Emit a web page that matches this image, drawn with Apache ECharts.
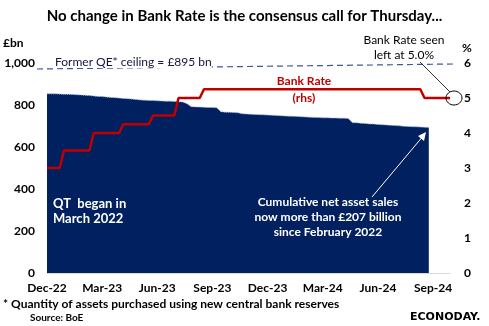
<!DOCTYPE html>
<html><head><meta charset="utf-8">
<script src="https://cdn.jsdelivr.net/npm/echarts@6/dist/echarts.min.js"></script>
<style>html,body{margin:0;padding:0;background:#fff}#c{width:489px;height:326px}</style>
</head><body><div id="c"></div>
<script>
// Weekly observation dates (Wednesdays), 96 weeks
var startDate = '2022-11-23';
var weekCount = 96;
// Quarterly tick labels, every 13 weeks
var tickLabels = ['Dec-22','Mar-23','Jun-23','Sep-23','Dec-23','Mar-24','Jun-24','Sep-24'];
// APF holdings, £bn (weekly)
var apfHoldings = [
 854,853,853,852,851,851,850,849,848,846,
 845,843,841,840,838,836,835,833,831,830,
 828,826,824,823,822,821,820,819,818,818,
 817,816,814,806,792,791,790,789,788,788,
 787,768,766,765,764,763,758,757,756,755,
 754,753,752,751,750,749,748,747,746,745,
 744,743,742,741,740,739,739,738,738,737,
 737,736,716,715,713,712,710,709,707,706,
 705,703,702,701,699,698,697,696,695,694,693
];
// Bank Rate, % (weekly)
var bankRate = [
 3.0,3.0,3.0,3.0,3.5,3.5,3.5,3.5,3.5,3.5,
 3.5,4.0,4.0,4.0,4.0,4.0,4.0,4.0,4.25,4.25,
 4.25,4.25,4.25,4.25,4.25,4.5,4.5,4.5,4.5,4.5,
 4.5,5.0,5.0,5.0,5.0,5.0,5.0,5.25,5.25,5.25,
 5.25,5.25,5.25,5.25,5.25,5.25,5.25,5.25,5.25,5.25,
 5.25,5.25,5.25,5.25,5.25,5.25,5.25,5.25,5.25,5.25,
 5.25,5.25,5.25,5.25,5.25,5.25,5.25,5.25,5.25,5.25,
 5.25,5.25,5.25,5.25,5.25,5.25,5.25,5.25,5.25,5.25,
 5.25,5.25,5.25,5.25,5.25,5.25,5.25,5.25,5.25,5.0,
 5.0,5.0,5.0,5.0,5.0,5.0
];

var categories = [];
(function(){
  var d = new Date(startDate + 'T00:00:00Z');
  for (var i = 0; i < weekCount; i++) {
    var t = new Date(d.getTime() + i*7*86400000);
    categories.push(t.toISOString().slice(0,10));
  }
})();

var rateData = bankRate.map(function(v, i){
  if (i === bankRate.length - 1) {
    return {value: v, symbol: 'arrow', symbolSize: [9, 11], symbolRotate: -90, symbolOffset: [4, 0],
            itemStyle: {color: '#c00000'}};
  }
  return v;
});

var F = 'Lato, "Liberation Sans", sans-serif';
var chart = echarts.init(document.getElementById('c'), null, {renderer: 'canvas'});
chart.setOption({
  animation: false,
  backgroundColor: '#ffffff',
  title: {
    text: 'No change in Bank Rate is the consensus call for Thursday...',
    left: 'center', top: 4,
    textStyle: {fontFamily: F, fontSize: 15, fontWeight: 'bold', color: '#000'}
  },
  grid: {left: 47, right: 39, top: 63, bottom: 53},
  xAxis: {
    type: 'category', data: categories, boundaryGap: false,
    axisLine: {lineStyle: {color: '#d9d9d9', width: 1}},
    axisTick: {show: false},
    axisLabel: {
      interval: 12, margin: 9,
      fontFamily: F, fontSize: 12, fontWeight: 'bold', color: '#000',
      formatter: function(v, idx){ return tickLabels[Math.round(idx/13)] || ''; }
    },
    splitLine: {show: false}
  },
  yAxis: [
    {type: 'value', min: 0, max: 1000, interval: 200,
     axisLine: {show: false}, axisTick: {show: false}, splitLine: {show: false},
     axisLabel: {margin: 12, fontFamily: F, fontSize: 12, fontWeight: 'bold', color: '#000',
       formatter: function(v){ return v === 1000 ? '1,000' : String(v); }}},
    {type: 'value', min: 0, max: 6, interval: 1, position: 'right',
     axisLine: {show: false}, axisTick: {show: false}, splitLine: {show: false},
     axisLabel: {margin: 14, fontFamily: F, fontSize: 12, fontWeight: 'bold', color: '#000'}}
  ],
  series: [
    {type: 'line', name: 'APF', yAxisIndex: 0, data: apfHoldings,
     symbol: 'none',
     lineStyle: {color: '#9db3dd', width: 1, type: 'dotted'},
     areaStyle: {color: '#002060', opacity: 1}, z: 2},
    {type: 'line', name: 'Bank Rate', yAxisIndex: 1, data: rateData,
     symbol: 'none', showSymbol: true,
     lineStyle: {color: '#c00000', width: 2.5}, itemStyle: {color: '#c00000'}, z: 3}
  ],
  graphic: [
    {type: 'text', x: 3, y: 37, style: {text: '£bn', font: 'bold 12px ' + F, fill: '#000'}},
    {type: 'text', x: 462, y: 42, style: {text: '%', font: 'bold 12px ' + F, fill: '#000'}},
    {type: 'line', shape: {x1: 37, y1: 69, x2: 455, y2: 64},
     style: {stroke: '#3b5a96', lineWidth: 1.2, lineDash: [6, 4]}, z: 10},
    {type: 'text', x: 55, y: 56, style: {text: 'Former QE* ceiling = £895 bn', font: '12px ' + F, fill: '#14163a', backgroundColor: '#fff'}, z: 11},
    {type: 'text', x: 304, y: 75, style: {text: 'Bank Rate', font: 'bold 12px ' + F, fill: '#c00000', align: 'center'}, z: 11},
    {type: 'text', x: 304, y: 92, style: {text: '(rhs)', font: 'bold 12px ' + F, fill: '#c00000', align: 'center'}, z: 11},
    {type: 'text', x: 404, y: 33, style: {text: 'Bank Rate seen\nleft at 5.0%', font: '12px ' + F, fill: '#000', align: 'center', lineHeight: 15}, z: 11},
    {type: 'line', shape: {x1: 420, y1: 62, x2: 450, y2: 92}, style: {stroke: '#000', lineWidth: 0.8}, z: 11},
    {type: 'ellipse', shape: {cx: 454, cy: 98, rx: 8, ry: 7}, style: {fill: 'none', stroke: '#000', lineWidth: 1}, z: 11},
    {type: 'text', x: 53, y: 196, style: {text: 'QT  began in\nMarch 2022', font: 'bold 13px ' + F, fill: '#fff', lineHeight: 15}, z: 11},
    {type: 'text', x: 328, y: 195, style: {text: 'Cumulative net asset sales\nnow more than £207 billion\nsince February 2022', font: 'bold 12px ' + F, fill: '#fff', align: 'center', lineHeight: 15}, z: 11},
    {type: 'line', shape: {x1: 372, y1: 197, x2: 424, y2: 135}, style: {stroke: '#fff', lineWidth: 1}, z: 11},
    {type: 'polygon', shape: {points: [[426, 132], [418, 136], [424, 141]]}, style: {fill: '#fff'}, z: 11},
    {type: 'text', x: 3, y: 298, style: {text: '* Quantity of assets purchased using new central bank reserves', font: 'bold 12px ' + F, fill: '#000'}},
    {type: 'text', x: 30, y: 313, style: {text: 'Source: BoE', font: 'bold 10px ' + F, fill: '#000'}},
    {type: 'text', x: 410, y: 312, style: {text: 'ECONODAY.', font: 'bold 11px "DejaVu Sans", sans-serif', fill: '#000'}}
  ]
});
</script></body></html>
